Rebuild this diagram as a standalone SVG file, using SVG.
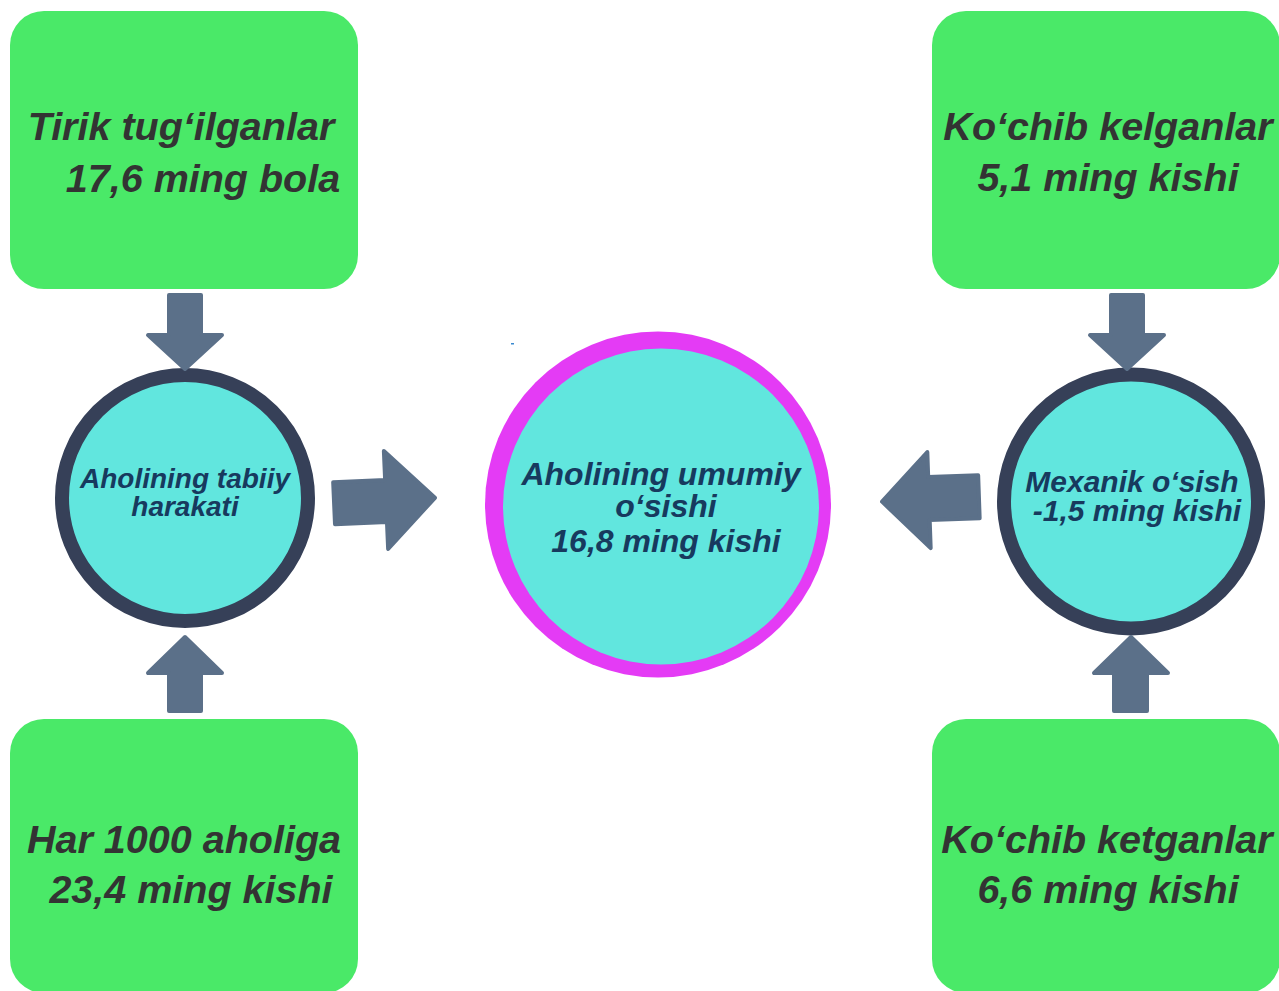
<svg xmlns="http://www.w3.org/2000/svg" width="1279" height="991" viewBox="0 0 1279 991">
<style>
.box{fill:#4ae968;}
.bt{font-family:"Liberation Sans",Arial,sans-serif;font-weight:bold;font-style:italic;font-size:39.5px;fill:#333333;text-anchor:middle;}
.ct{font-family:"Liberation Sans",Arial,sans-serif;font-weight:bold;font-style:italic;fill:#173a5e;text-anchor:middle;}
.ring{fill:#61e6de;stroke:#364058;stroke-width:14;}
.arr{fill:#5b7089;stroke:#5b7089;stroke-width:4;stroke-linejoin:round;}
</style>
<rect width="1279" height="991" fill="#ffffff"/>
<g id="box-tirik">
<rect class="box" x="10" y="11" width="348" height="278" rx="34"/>
<text class="bt" x="181" y="140">Tirik tug‘ilganlar</text>
<text class="bt" x="203" y="192">17,6 ming bola</text>
</g>
<g id="box-har">
<rect class="box" x="10" y="719" width="348" height="274" rx="34"/>
<text class="bt" x="184" y="853">Har 1000 aholiga</text>
<text class="bt" x="191" y="903">23,4 ming kishi</text>
</g>
<g id="box-kelgan">
<rect class="box" x="932" y="11" width="348" height="278" rx="34"/>
<text class="bt" x="1108" y="140">Ko‘chib kelganlar</text>
<text class="bt" x="1108" y="191">5,1 ming kishi</text>
</g>
<g id="box-ketgan">
<rect class="box" x="932" y="719" width="348" height="274" rx="34"/>
<text class="bt" x="1107" y="853">Ko‘chib ketganlar</text>
<text class="bt" x="1108" y="903">6,6 ming kishi</text>
</g>
<g id="circle-tabiiy">
<circle class="ring" cx="185" cy="498" r="123"/>
<text class="ct" font-size="28" x="185" y="488">Aholining tabiiy</text>
<text class="ct" font-size="28" x="185" y="516">harakati</text>
</g>
<g id="circle-umumiy">
<circle cx="658" cy="504.5" r="173" fill="#e43bf5"/>
<circle cx="661" cy="506.5" r="158" fill="#61e6de"/>
<text class="ct" font-size="32" x="661" y="485">Aholining umumiy</text>
<text class="ct" font-size="32" x="666" y="517">o‘sishi</text>
<text class="ct" font-size="32" x="666" y="552">16,8 ming kishi</text>
</g>
<g id="circle-mexanik">
<circle class="ring" cx="1131" cy="501.5" r="127"/>
<text class="ct" font-size="30" x="1132" y="492">Mexanik o‘sish</text>
<text class="ct" font-size="30" x="1137" y="521">-1,5 ming kishi</text>
</g>
<g id="connectors">
<path class="arr" d="M169,295 H201 V335 H222 L185,369 L148,335 H169 Z"/>
<path class="arr" d="M169,711 H201 V673 H222 L185,637 L148,673 H169 Z"/>
<path class="arr" transform="rotate(-2.5 385 500)" d="M334,480 H386 V451 L435,500 L386,549 V522 H334 Z"/>
<path class="arr" d="M1111,295 H1143 V335 H1164 L1127,369 L1090,335 H1111 Z"/>
<path class="arr" d="M1114,711 H1147 V673 H1168 L1131,637 L1094,673 H1114 Z"/>
<path class="arr" transform="rotate(-2 930 500)" d="M979,477 H929 V452 L882,500 L929,548 V520 H979 Z"/>
</g>
<rect x="511" y="343" width="3" height="1.5" fill="#3a8ad0"/>
</svg>
